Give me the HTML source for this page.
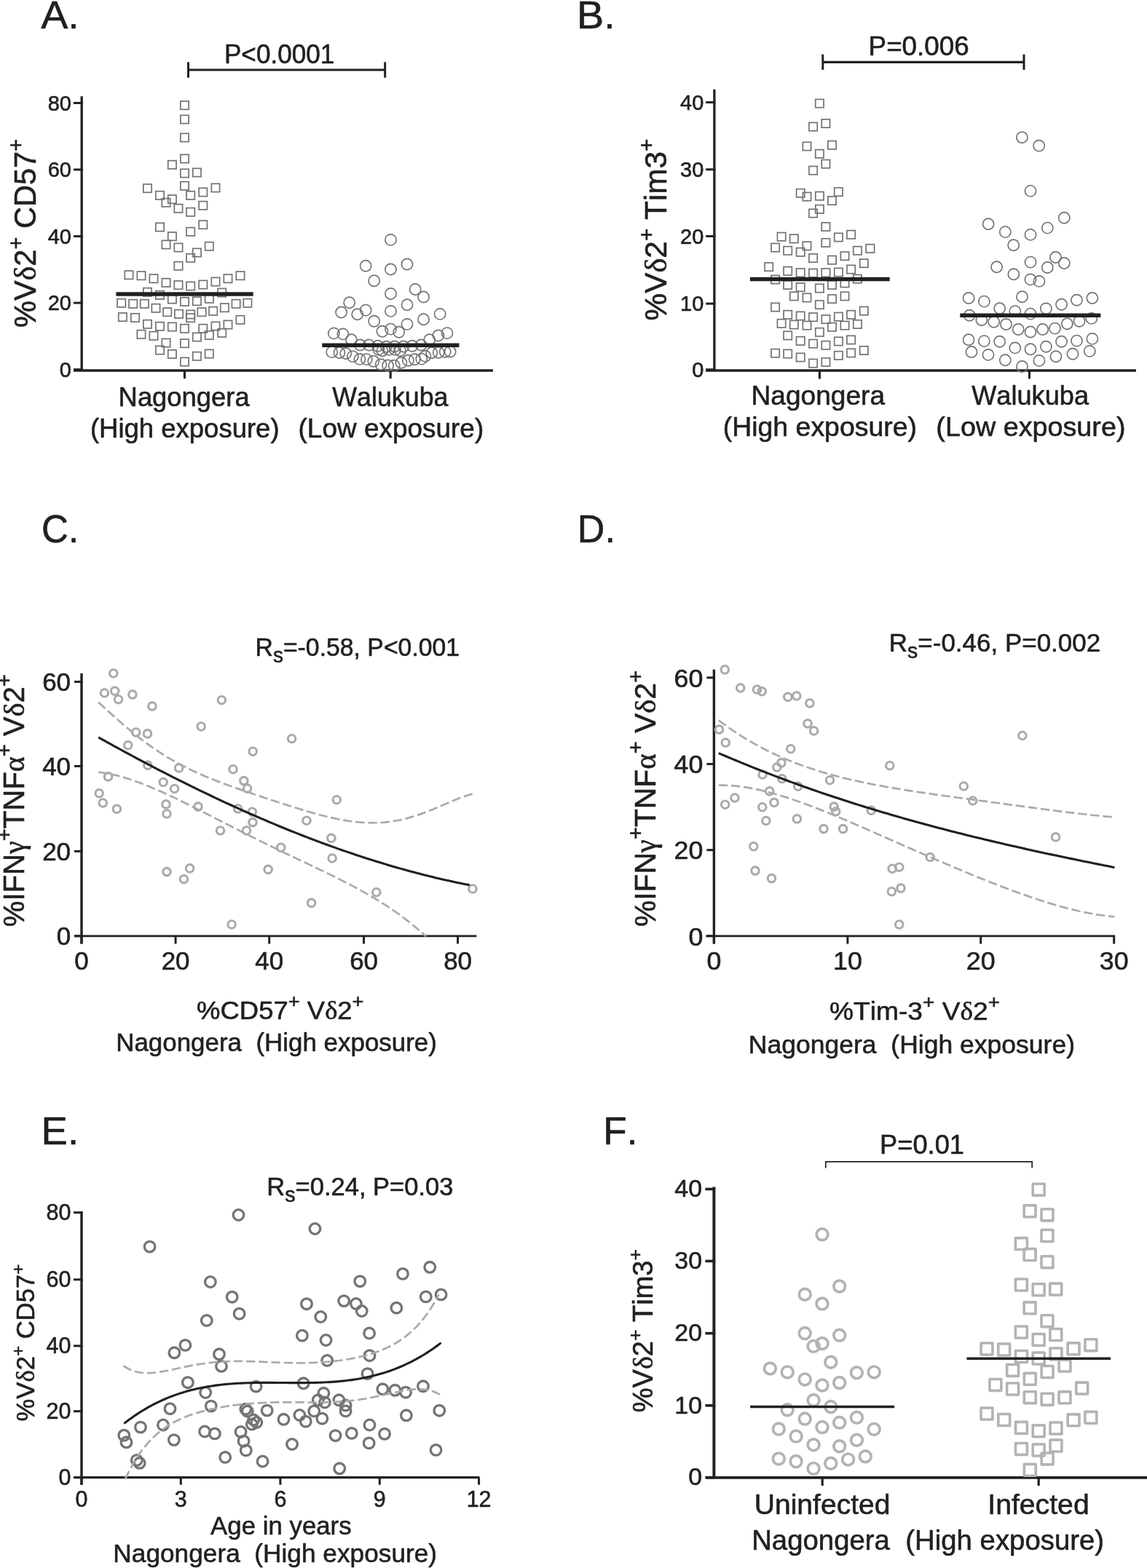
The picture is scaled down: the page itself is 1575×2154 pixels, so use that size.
<!DOCTYPE html>
<html><head><meta charset="utf-8"><title>Figure</title>
<style>
html,body{margin:0;padding:0;background:#fff;}
body{width:1575px;height:2154px;overflow:hidden;}
svg{display:block;font-family:'Liberation Sans', Arial, Helvetica, sans-serif;}
text{fill:#231f20;font-kerning:none;stroke:#231f20;stroke-width:0.6px;stroke-linejoin:round;}
</style></head>
<body>
<svg width="1575" height="2154" viewBox="0 0 1575 2154">
<rect width="1575" height="2154" fill="#fff"/>
<text id="pA" x="56.17" y="38.8" font-size="54.5" textLength="52.64" lengthAdjust="spacingAndGlyphs">A.</text>
<text id="pB" x="792.07" y="38.9" font-size="54.5" textLength="52.75" lengthAdjust="spacingAndGlyphs">B.</text>
<text id="pC" x="57.12" y="744.8" font-size="54.5" textLength="51.07" lengthAdjust="spacingAndGlyphs">C.</text>
<text id="pD" x="792.78" y="744.8" font-size="54.5" textLength="52.11" lengthAdjust="spacingAndGlyphs">D.</text>
<text id="pE" x="56.57" y="1571.7" font-size="54.5" textLength="51.55" lengthAdjust="spacingAndGlyphs">E.</text>
<text id="pF" x="828.15" y="1571.7" font-size="54.5" textLength="47.31" lengthAdjust="spacingAndGlyphs">F.</text>
<text id="PA" x="307.94" y="86.8" font-size="36.8" textLength="151.4" lengthAdjust="spacingAndGlyphs">P&lt;0.0001</text>
<text id="PB" x="1192.59" y="75.6" font-size="36.8" textLength="138.15" lengthAdjust="spacingAndGlyphs">P=0.006</text>
<text id="PF" x="1208" y="1585.3" font-size="37.6" textLength="116.01" lengthAdjust="spacingAndGlyphs">P=0.01</text>
<text id="cA1" x="162.61" y="557.9" font-size="36.5" textLength="180.02" lengthAdjust="spacingAndGlyphs">Nagongera</text>
<text id="cA2" x="123.9" y="600.6" font-size="36.5" textLength="259.68" lengthAdjust="spacingAndGlyphs">(High exposure)</text>
<text id="cA3" x="456.21" y="557.9" font-size="36.5" textLength="159.31" lengthAdjust="spacingAndGlyphs">Walukuba</text>
<text id="cA4" x="409.57" y="600.6" font-size="36.5" textLength="254.63" lengthAdjust="spacingAndGlyphs">(Low exposure)</text>
<text id="cB1" x="1031.51" y="555.7" font-size="37.3" textLength="183.56" lengthAdjust="spacingAndGlyphs">Nagongera</text>
<text id="cB2" x="992.69" y="599.2" font-size="37.3" textLength="266.37" lengthAdjust="spacingAndGlyphs">(High exposure)</text>
<text id="cB3" x="1334.21" y="555.7" font-size="37.3" textLength="160.85" lengthAdjust="spacingAndGlyphs">Walukuba</text>
<text id="cB4" x="1285.36" y="599.2" font-size="37.3" textLength="260.13" lengthAdjust="spacingAndGlyphs">(Low exposure)</text>
<text id="sC" x="350.49" y="900.6" font-size="35" textLength="280.67" lengthAdjust="spacingAndGlyphs">R<tspan font-size="29" dy="9">s</tspan><tspan dy="-9">=-0.58, P&lt;0.001</tspan></text>
<text id="sD" x="1220.85" y="895.3" font-size="35.6" textLength="290.31" lengthAdjust="spacingAndGlyphs">R<tspan font-size="29" dy="9">s</tspan><tspan dy="-9">=-0.46, P=0.002</tspan></text>
<text id="sE" x="366.22" y="1641.8" font-size="34.8" textLength="256.25" lengthAdjust="spacingAndGlyphs">R<tspan font-size="29" dy="9">s</tspan><tspan dy="-9">=0.24, P=0.03</tspan></text>
<text id="xC1" x="270.12" y="1400.3" font-size="35" textLength="229.49" lengthAdjust="spacingAndGlyphs">%CD57<tspan font-size="26.25" dy="-16.45">+</tspan><tspan dy="16.45"> V</tspan><tspan font-family="'Liberation Serif', 'Times New Roman', serif">δ</tspan>2<tspan font-size="26.25" dy="-16.45">+</tspan></text>
<text id="xC2" x="159.2" y="1444.4" font-size="35" textLength="440.74" lengthAdjust="spacingAndGlyphs" xml:space="preserve">Nagongera  (High exposure)</text>
<text id="xD1" x="1138.95" y="1401.3" font-size="35.6" textLength="234.06" lengthAdjust="spacingAndGlyphs">%Tim-3<tspan font-size="26.7" dy="-16.73">+</tspan><tspan dy="16.73"> V</tspan><tspan font-family="'Liberation Serif', 'Times New Roman', serif">δ</tspan>2<tspan font-size="26.7" dy="-16.73">+</tspan></text>
<text id="xD2" x="1027.8" y="1446.7" font-size="35.9" textLength="448.24" lengthAdjust="spacingAndGlyphs" xml:space="preserve">Nagongera  (High exposure)</text>
<text id="xE1" x="289.09" y="2107.8" font-size="35" textLength="193.56" lengthAdjust="spacingAndGlyphs">Age in years</text>
<text id="xE2" x="155.38" y="2146" font-size="35" textLength="444.68" lengthAdjust="spacingAndGlyphs" xml:space="preserve">Nagongera  (High exposure)</text>
<text id="xF1" x="1035.7" y="2079.5" font-size="38" textLength="186.86" lengthAdjust="spacingAndGlyphs">Uninfected</text>
<text id="xF2" x="1356.28" y="2079.5" font-size="38" textLength="139.43" lengthAdjust="spacingAndGlyphs">Infected</text>
<text id="xF3" x="1032.17" y="2128.7" font-size="38.3" textLength="483.95" lengthAdjust="spacingAndGlyphs" xml:space="preserve">Nagongera  (High exposure)</text>
<text id="yA" transform="translate(48.7,449.95) rotate(-90)" x="0" y="0" font-size="42.7" textLength="259.15" lengthAdjust="spacingAndGlyphs">%V<tspan font-family="'Liberation Serif', 'Times New Roman', serif">δ</tspan>2<tspan font-size="29.89" dy="-17.08">+</tspan><tspan dy="17.08"> CD57</tspan><tspan font-size="29.89" dy="-17.08">+</tspan></text>
<text id="yB" transform="translate(915.1,440.49) rotate(-90)" x="0" y="0" font-size="42.7" textLength="249.92" lengthAdjust="spacingAndGlyphs">%V<tspan font-family="'Liberation Serif', 'Times New Roman', serif">δ</tspan>2<tspan font-size="29.89" dy="-17.08">+</tspan><tspan dy="17.08"> Tim3</tspan><tspan font-size="29.89" dy="-17.08">+</tspan></text>
<text id="yC" transform="translate(32.8,1273.21) rotate(-90)" x="0" y="0" font-size="40" textLength="346.83" lengthAdjust="spacingAndGlyphs">%IFN<tspan font-family="'Liberation Serif', 'Times New Roman', serif">γ</tspan><tspan font-size="28.8" dy="-16.8">+</tspan><tspan dy="16.8">TNF</tspan><tspan font-family="'Liberation Serif', 'Times New Roman', serif">α</tspan><tspan font-size="28.8" dy="-16.8">+</tspan><tspan dy="16.8"> V</tspan><tspan font-family="'Liberation Serif', 'Times New Roman', serif">δ</tspan>2<tspan font-size="28.8" dy="-16.8">+</tspan></text>
<text id="yD" transform="translate(900,1273.01) rotate(-90)" x="0" y="0" font-size="40.5" textLength="352.13" lengthAdjust="spacingAndGlyphs">%IFN<tspan font-family="'Liberation Serif', 'Times New Roman', serif">γ</tspan><tspan font-size="29.16" dy="-17.01">+</tspan><tspan dy="17.01">TNF</tspan><tspan font-family="'Liberation Serif', 'Times New Roman', serif">α</tspan><tspan font-size="29.16" dy="-17.01">+</tspan><tspan dy="17.01"> V</tspan><tspan font-family="'Liberation Serif', 'Times New Roman', serif">δ</tspan>2<tspan font-size="29.16" dy="-17.01">+</tspan></text>
<text id="yE" transform="translate(47.4,1952.4) rotate(-90)" x="0" y="0" font-size="35.4" textLength="215.7" lengthAdjust="spacingAndGlyphs">%V<tspan font-family="'Liberation Serif', 'Times New Roman', serif">δ</tspan>2<tspan font-size="24.78" dy="-14.16">+</tspan><tspan dy="14.16"> CD57</tspan><tspan font-size="24.78" dy="-14.16">+</tspan></text>
<text id="yF" transform="translate(895.8,1940.2) rotate(-90)" x="0" y="0" font-size="38.1" textLength="224.27" lengthAdjust="spacingAndGlyphs">%V<tspan font-family="'Liberation Serif', 'Times New Roman', serif">δ</tspan>2<tspan font-size="26.67" dy="-15.24">+</tspan><tspan dy="15.24"> Tim3</tspan><tspan font-size="26.67" dy="-15.24">+</tspan></text>
<line x1="258.5" y1="96" x2="528.7" y2="96" stroke="#231f20" stroke-width="3.2" stroke-linecap="butt"/>
<line x1="258.5" y1="85.3" x2="258.5" y2="106.7" stroke="#231f20" stroke-width="3" stroke-linecap="butt"/>
<line x1="528.7" y1="85.3" x2="528.7" y2="106.7" stroke="#231f20" stroke-width="3" stroke-linecap="butt"/>
<line x1="112.2" y1="132.3" x2="112.2" y2="509" stroke="#231f20" stroke-width="3.3" stroke-linecap="butt"/>
<line x1="101" y1="141.5" x2="113.7" y2="141.5" stroke="#231f20" stroke-width="3" stroke-linecap="butt"/>
<text x="97.9" y="151.79" font-size="29" text-anchor="end" fill="#231f20" >80</text>
<line x1="101" y1="233" x2="113.7" y2="233" stroke="#231f20" stroke-width="3" stroke-linecap="butt"/>
<text x="97.9" y="243.29" font-size="29" text-anchor="end" fill="#231f20" >60</text>
<line x1="101" y1="324.6" x2="113.7" y2="324.6" stroke="#231f20" stroke-width="3" stroke-linecap="butt"/>
<text x="97.9" y="334.9" font-size="29" text-anchor="end" fill="#231f20" >40</text>
<line x1="101" y1="416.1" x2="113.7" y2="416.1" stroke="#231f20" stroke-width="3" stroke-linecap="butt"/>
<text x="97.9" y="426.4" font-size="29" text-anchor="end" fill="#231f20" >20</text>
<line x1="101" y1="507.6" x2="113.7" y2="507.6" stroke="#231f20" stroke-width="3" stroke-linecap="butt"/>
<text x="97.9" y="517.89" font-size="29" text-anchor="end" fill="#231f20" >0</text>
<line x1="101" y1="509" x2="677" y2="509" stroke="#231f20" stroke-width="3.5" stroke-linecap="butt"/>
<line x1="253.5" y1="509" x2="253.5" y2="520" stroke="#231f20" stroke-width="3.2" stroke-linecap="butt"/>
<line x1="536.2" y1="509" x2="536.2" y2="520" stroke="#231f20" stroke-width="3.2" stroke-linecap="butt"/>
<g fill="none" stroke="#727272" stroke-width="1.7" stroke-linejoin="miter">
<rect x="247.85" y="139.05" width="11.3" height="11.3"/>
<rect x="247.85" y="158.35" width="11.3" height="11.3"/>
<rect x="247.85" y="183.35" width="11.3" height="11.3"/>
<rect x="247.85" y="212.35" width="11.3" height="11.3"/>
<rect x="230.75" y="220.65" width="11.3" height="11.3"/>
<rect x="247.85" y="232.35" width="11.3" height="11.3"/>
<rect x="264.75" y="231.35" width="11.3" height="11.3"/>
<rect x="196.85" y="253.05" width="11.3" height="11.3"/>
<rect x="247.85" y="249.65" width="11.3" height="11.3"/>
<rect x="290.35" y="252.35" width="11.3" height="11.3"/>
<rect x="213.85" y="262.75" width="11.3" height="11.3"/>
<rect x="230.75" y="268.05" width="11.3" height="11.3"/>
<rect x="222.35" y="272.65" width="11.3" height="11.3"/>
<rect x="256.05" y="262.75" width="11.3" height="11.3"/>
<rect x="273.15" y="258.35" width="11.3" height="11.3"/>
<rect x="239.35" y="280.65" width="11.3" height="11.3"/>
<rect x="256.05" y="285.65" width="11.3" height="11.3"/>
<rect x="273.15" y="276.65" width="11.3" height="11.3"/>
<rect x="213.85" y="306.35" width="11.3" height="11.3"/>
<rect x="230.75" y="319.05" width="11.3" height="11.3"/>
<rect x="256.05" y="312.65" width="11.3" height="11.3"/>
<rect x="273.15" y="303.05" width="11.3" height="11.3"/>
<rect x="222.35" y="330.35" width="11.3" height="11.3"/>
<rect x="239.35" y="334.35" width="11.3" height="11.3"/>
<rect x="281.65" y="332.65" width="11.3" height="11.3"/>
<rect x="264.75" y="341.35" width="11.3" height="11.3"/>
<rect x="256.05" y="348.75" width="11.3" height="11.3"/>
<rect x="239.35" y="359.65" width="11.3" height="11.3"/>
<rect x="171.35" y="372.05" width="11.3" height="11.3"/>
<rect x="188.35" y="373.05" width="11.3" height="11.3"/>
<rect x="205.35" y="377.05" width="11.3" height="11.3"/>
<rect x="222.35" y="382.65" width="11.3" height="11.3"/>
<rect x="239.35" y="385.95" width="11.3" height="11.3"/>
<rect x="256.05" y="387.35" width="11.3" height="11.3"/>
<rect x="273.15" y="385.35" width="11.3" height="11.3"/>
<rect x="290.35" y="381.35" width="11.3" height="11.3"/>
<rect x="307.35" y="377.05" width="11.3" height="11.3"/>
<rect x="324.35" y="373.05" width="11.3" height="11.3"/>
<rect x="196.85" y="395.65" width="11.3" height="11.3"/>
<rect x="213.85" y="399.65" width="11.3" height="11.3"/>
<rect x="299.05" y="396.35" width="11.3" height="11.3"/>
<rect x="230.75" y="405.35" width="11.3" height="11.3"/>
<rect x="247.85" y="408.75" width="11.3" height="11.3"/>
<rect x="264.75" y="408.05" width="11.3" height="11.3"/>
<rect x="281.65" y="404.65" width="11.3" height="11.3"/>
<rect x="161.05" y="410.65" width="11.3" height="11.3"/>
<rect x="177.05" y="411.65" width="11.3" height="11.3"/>
<rect x="192.75" y="411.65" width="11.3" height="11.3"/>
<rect x="208.35" y="417.65" width="11.3" height="11.3"/>
<rect x="224.05" y="423.05" width="11.3" height="11.3"/>
<rect x="239.85" y="425.65" width="11.3" height="11.3"/>
<rect x="256.05" y="426.35" width="11.3" height="11.3"/>
<rect x="256.05" y="431.05" width="11.3" height="11.3"/>
<rect x="271.35" y="423.05" width="11.3" height="11.3"/>
<rect x="287.05" y="421.65" width="11.3" height="11.3"/>
<rect x="302.75" y="417.05" width="11.3" height="11.3"/>
<rect x="318.45" y="411.65" width="11.3" height="11.3"/>
<rect x="334.25" y="410.65" width="11.3" height="11.3"/>
<rect x="162.75" y="429.95" width="11.3" height="11.3"/>
<rect x="179.85" y="430.75" width="11.3" height="11.3"/>
<rect x="324.35" y="433.65" width="11.3" height="11.3"/>
<rect x="196.85" y="439.65" width="11.3" height="11.3"/>
<rect x="213.85" y="442.65" width="11.3" height="11.3"/>
<rect x="230.75" y="443.35" width="11.3" height="11.3"/>
<rect x="247.85" y="445.65" width="11.3" height="11.3"/>
<rect x="273.15" y="445.65" width="11.3" height="11.3"/>
<rect x="290.35" y="442.35" width="11.3" height="11.3"/>
<rect x="307.35" y="440.35" width="11.3" height="11.3"/>
<rect x="188.35" y="453.65" width="11.3" height="11.3"/>
<rect x="205.35" y="455.65" width="11.3" height="11.3"/>
<rect x="264.75" y="457.35" width="11.3" height="11.3"/>
<rect x="281.65" y="454.75" width="11.3" height="11.3"/>
<rect x="299.05" y="451.65" width="11.3" height="11.3"/>
<rect x="222.35" y="465.35" width="11.3" height="11.3"/>
<rect x="247.85" y="466.05" width="11.3" height="11.3"/>
<rect x="213.85" y="475.35" width="11.3" height="11.3"/>
<rect x="230.75" y="480.75" width="11.3" height="11.3"/>
<rect x="264.75" y="483.65" width="11.3" height="11.3"/>
<rect x="281.65" y="480.35" width="11.3" height="11.3"/>
<rect x="247.85" y="491.35" width="11.3" height="11.3"/>
</g>
<g fill="none" stroke="#727272" stroke-width="1.65">
<circle cx="536.5" cy="329.4" r="7.6"/>
<circle cx="502.2" cy="365.2" r="7.6"/>
<circle cx="536.5" cy="370" r="7.6"/>
<circle cx="559" cy="363" r="7.6"/>
<circle cx="513.7" cy="385.8" r="7.6"/>
<circle cx="536.5" cy="403.5" r="7.6"/>
<circle cx="570.2" cy="397.5" r="7.6"/>
<circle cx="581.6" cy="408" r="7.6"/>
<circle cx="479.7" cy="415.7" r="7.6"/>
<circle cx="559" cy="418.7" r="7.6"/>
<circle cx="468.6" cy="429" r="7.6"/>
<circle cx="490.8" cy="431.8" r="7.6"/>
<circle cx="502.2" cy="426.1" r="7.6"/>
<circle cx="536.5" cy="427.4" r="7.6"/>
<circle cx="581.6" cy="438.8" r="7.6"/>
<circle cx="604.2" cy="431.4" r="7.6"/>
<circle cx="513.7" cy="441.3" r="7.6"/>
<circle cx="559" cy="445.4" r="7.6"/>
<circle cx="525" cy="455.3" r="7.6"/>
<circle cx="536.5" cy="452.1" r="7.6"/>
<circle cx="547.7" cy="456.3" r="7.6"/>
<circle cx="458.4" cy="457.9" r="7.6"/>
<circle cx="470.9" cy="458.9" r="7.6"/>
<circle cx="482.5" cy="466.7" r="7.6"/>
<circle cx="589.8" cy="466.7" r="7.6"/>
<circle cx="601.9" cy="461" r="7.6"/>
<circle cx="614" cy="457.6" r="7.6"/>
<circle cx="494.5" cy="474" r="7.6"/>
<circle cx="506.6" cy="474" r="7.6"/>
<circle cx="518.7" cy="475.3" r="7.6"/>
<circle cx="530.4" cy="476.3" r="7.6"/>
<circle cx="542" cy="476" r="7.6"/>
<circle cx="554" cy="476" r="7.6"/>
<circle cx="566.1" cy="475.3" r="7.6"/>
<circle cx="578.2" cy="474" r="7.6"/>
<circle cx="519.9" cy="480.1" r="7.6"/>
<circle cx="525" cy="481.7" r="7.6"/>
<circle cx="533.9" cy="480.4" r="7.6"/>
<circle cx="542.6" cy="480.4" r="7.6"/>
<circle cx="549.6" cy="481.7" r="7.6"/>
<circle cx="455.8" cy="483.6" r="7.6"/>
<circle cx="466" cy="484.5" r="7.6"/>
<circle cx="474.8" cy="485.5" r="7.6"/>
<circle cx="484.4" cy="489.6" r="7.6"/>
<circle cx="493.9" cy="493.4" r="7.6"/>
<circle cx="503.4" cy="493.6" r="7.6"/>
<circle cx="512.9" cy="496.3" r="7.6"/>
<circle cx="523.1" cy="500.7" r="7.6"/>
<circle cx="532.6" cy="502" r="7.6"/>
<circle cx="541.3" cy="502.3" r="7.6"/>
<circle cx="550.9" cy="498.2" r="7.6"/>
<circle cx="560.4" cy="495.3" r="7.6"/>
<circle cx="569.3" cy="493.7" r="7.6"/>
<circle cx="578.8" cy="493.1" r="7.6"/>
<circle cx="583.9" cy="489.3" r="7.6"/>
<circle cx="592.8" cy="484.8" r="7.6"/>
<circle cx="602.3" cy="484.2" r="7.6"/>
<circle cx="611.2" cy="483.3" r="7.6"/>
<circle cx="618.2" cy="483" r="7.6"/>
</g>
<line x1="159.4" y1="404" x2="347.7" y2="404" stroke="#231f20" stroke-width="5.5" stroke-linecap="butt"/>
<line x1="442.3" y1="474.3" x2="630.5" y2="474.3" stroke="#231f20" stroke-width="5.5" stroke-linecap="butt"/>
<line x1="1129.8" y1="85.3" x2="1406" y2="85.3" stroke="#231f20" stroke-width="3.2" stroke-linecap="butt"/>
<line x1="1129.8" y1="74.7" x2="1129.8" y2="95.9" stroke="#231f20" stroke-width="3" stroke-linecap="butt"/>
<line x1="1406" y1="74.7" x2="1406" y2="95.9" stroke="#231f20" stroke-width="3" stroke-linecap="butt"/>
<line x1="980.9" y1="122.7" x2="980.9" y2="509" stroke="#231f20" stroke-width="3.3" stroke-linecap="butt"/>
<line x1="969.2" y1="140.6" x2="982.4" y2="140.6" stroke="#231f20" stroke-width="3" stroke-linecap="butt"/>
<text x="966.3" y="150.89" font-size="29" text-anchor="end" fill="#231f20" >40</text>
<line x1="969.2" y1="232.8" x2="982.4" y2="232.8" stroke="#231f20" stroke-width="3" stroke-linecap="butt"/>
<text x="966.3" y="243.09" font-size="29" text-anchor="end" fill="#231f20" >30</text>
<line x1="969.2" y1="324.5" x2="982.4" y2="324.5" stroke="#231f20" stroke-width="3" stroke-linecap="butt"/>
<text x="966.3" y="334.8" font-size="29" text-anchor="end" fill="#231f20" >20</text>
<line x1="969.2" y1="417.1" x2="982.4" y2="417.1" stroke="#231f20" stroke-width="3" stroke-linecap="butt"/>
<text x="966.3" y="427.4" font-size="29" text-anchor="end" fill="#231f20" >10</text>
<line x1="969.2" y1="507.7" x2="982.4" y2="507.7" stroke="#231f20" stroke-width="3" stroke-linecap="butt"/>
<text x="966.3" y="518" font-size="29" text-anchor="end" fill="#231f20" >0</text>
<line x1="969.2" y1="509" x2="1560" y2="509" stroke="#231f20" stroke-width="3.5" stroke-linecap="butt"/>
<line x1="1125.4" y1="509" x2="1125.4" y2="520.4" stroke="#231f20" stroke-width="3.2" stroke-linecap="butt"/>
<line x1="1413.5" y1="509" x2="1413.5" y2="520.4" stroke="#231f20" stroke-width="3.2" stroke-linecap="butt"/>
<g fill="none" stroke="#727272" stroke-width="1.7" stroke-linejoin="miter">
<rect x="1119.75" y="136.45" width="11.3" height="11.3"/>
<rect x="1110.95" y="168.45" width="11.3" height="11.3"/>
<rect x="1128.25" y="163.95" width="11.3" height="11.3"/>
<rect x="1102.35" y="195.35" width="11.3" height="11.3"/>
<rect x="1136.85" y="193.65" width="11.3" height="11.3"/>
<rect x="1119.75" y="205.65" width="11.3" height="11.3"/>
<rect x="1128.25" y="219.55" width="11.3" height="11.3"/>
<rect x="1110.95" y="228.45" width="11.3" height="11.3"/>
<rect x="1093.55" y="259.65" width="11.3" height="11.3"/>
<rect x="1102.35" y="264.45" width="11.3" height="11.3"/>
<rect x="1119.75" y="263.55" width="11.3" height="11.3"/>
<rect x="1145.75" y="257.95" width="11.3" height="11.3"/>
<rect x="1136.85" y="269.95" width="11.3" height="11.3"/>
<rect x="1119.75" y="281.65" width="11.3" height="11.3"/>
<rect x="1110.95" y="287.35" width="11.3" height="11.3"/>
<rect x="1128.25" y="305.85" width="11.3" height="11.3"/>
<rect x="1067.45" y="319.55" width="11.3" height="11.3"/>
<rect x="1084.65" y="322.25" width="11.3" height="11.3"/>
<rect x="1145.75" y="320.35" width="11.3" height="11.3"/>
<rect x="1162.95" y="316.65" width="11.3" height="11.3"/>
<rect x="1058.95" y="334.45" width="11.3" height="11.3"/>
<rect x="1076.05" y="338.65" width="11.3" height="11.3"/>
<rect x="1093.55" y="340.65" width="11.3" height="11.3"/>
<rect x="1102.35" y="332.15" width="11.3" height="11.3"/>
<rect x="1128.25" y="327.75" width="11.3" height="11.3"/>
<rect x="1171.75" y="338.65" width="11.3" height="11.3"/>
<rect x="1189.25" y="335.75" width="11.3" height="11.3"/>
<rect x="1110.95" y="348.95" width="11.3" height="11.3"/>
<rect x="1136.85" y="351.55" width="11.3" height="11.3"/>
<rect x="1154.35" y="346.05" width="11.3" height="11.3"/>
<rect x="1180.65" y="356.05" width="11.3" height="11.3"/>
<rect x="1050.05" y="360.95" width="11.3" height="11.3"/>
<rect x="1076.05" y="366.65" width="11.3" height="11.3"/>
<rect x="1093.55" y="368.95" width="11.3" height="11.3"/>
<rect x="1110.95" y="369.45" width="11.3" height="11.3"/>
<rect x="1128.25" y="368.95" width="11.3" height="11.3"/>
<rect x="1145.75" y="368.35" width="11.3" height="11.3"/>
<rect x="1162.95" y="364.35" width="11.3" height="11.3"/>
<rect x="1058.95" y="378.35" width="11.3" height="11.3"/>
<rect x="1171.75" y="377.45" width="11.3" height="11.3"/>
<rect x="1076.05" y="385.75" width="11.3" height="11.3"/>
<rect x="1093.55" y="388.95" width="11.3" height="11.3"/>
<rect x="1119.75" y="390.35" width="11.3" height="11.3"/>
<rect x="1136.85" y="385.75" width="11.3" height="11.3"/>
<rect x="1154.35" y="383.25" width="11.3" height="11.3"/>
<rect x="1084.65" y="401.25" width="11.3" height="11.3"/>
<rect x="1102.35" y="403.25" width="11.3" height="11.3"/>
<rect x="1136.85" y="404.95" width="11.3" height="11.3"/>
<rect x="1154.35" y="401.25" width="11.3" height="11.3"/>
<rect x="1058.95" y="416.35" width="11.3" height="11.3"/>
<rect x="1119.75" y="412.95" width="11.3" height="11.3"/>
<rect x="1076.05" y="426.65" width="11.3" height="11.3"/>
<rect x="1093.55" y="428.35" width="11.3" height="11.3"/>
<rect x="1110.95" y="430.05" width="11.3" height="11.3"/>
<rect x="1128.25" y="432.95" width="11.3" height="11.3"/>
<rect x="1145.75" y="429.45" width="11.3" height="11.3"/>
<rect x="1162.95" y="426.65" width="11.3" height="11.3"/>
<rect x="1180.65" y="421.45" width="11.3" height="11.3"/>
<rect x="1067.45" y="438.65" width="11.3" height="11.3"/>
<rect x="1084.65" y="440.35" width="11.3" height="11.3"/>
<rect x="1102.35" y="441.45" width="11.3" height="11.3"/>
<rect x="1136.85" y="443.55" width="11.3" height="11.3"/>
<rect x="1154.35" y="441.45" width="11.3" height="11.3"/>
<rect x="1171.75" y="439.75" width="11.3" height="11.3"/>
<rect x="1119.75" y="450.65" width="11.3" height="11.3"/>
<rect x="1076.05" y="455.25" width="11.3" height="11.3"/>
<rect x="1093.55" y="462.65" width="11.3" height="11.3"/>
<rect x="1110.95" y="466.45" width="11.3" height="11.3"/>
<rect x="1128.25" y="468.65" width="11.3" height="11.3"/>
<rect x="1145.75" y="463.25" width="11.3" height="11.3"/>
<rect x="1162.95" y="461.25" width="11.3" height="11.3"/>
<rect x="1058.95" y="479.55" width="11.3" height="11.3"/>
<rect x="1076.05" y="480.35" width="11.3" height="11.3"/>
<rect x="1093.55" y="485.25" width="11.3" height="11.3"/>
<rect x="1110.95" y="493.45" width="11.3" height="11.3"/>
<rect x="1128.25" y="491.75" width="11.3" height="11.3"/>
<rect x="1145.75" y="482.65" width="11.3" height="11.3"/>
<rect x="1162.95" y="479.25" width="11.3" height="11.3"/>
<rect x="1180.65" y="475.75" width="11.3" height="11.3"/>
</g>
<g fill="none" stroke="#727272" stroke-width="1.65">
<circle cx="1403.4" cy="188.8" r="7.6"/>
<circle cx="1426.7" cy="200.2" r="7.6"/>
<circle cx="1415" cy="262.4" r="7.6"/>
<circle cx="1357.1" cy="307.8" r="7.6"/>
<circle cx="1380.3" cy="318.6" r="7.6"/>
<circle cx="1391.7" cy="336.7" r="7.6"/>
<circle cx="1415" cy="322.4" r="7.6"/>
<circle cx="1438.3" cy="313.1" r="7.6"/>
<circle cx="1461.3" cy="299.3" r="7.6"/>
<circle cx="1449.5" cy="353.5" r="7.6"/>
<circle cx="1461.3" cy="361.5" r="7.6"/>
<circle cx="1415" cy="360.1" r="7.6"/>
<circle cx="1368.6" cy="366.8" r="7.6"/>
<circle cx="1438.3" cy="367.5" r="7.6"/>
<circle cx="1391.9" cy="376.7" r="7.6"/>
<circle cx="1415" cy="383.9" r="7.6"/>
<circle cx="1426.9" cy="386.4" r="7.6"/>
<circle cx="1330.1" cy="409.5" r="7.6"/>
<circle cx="1351.4" cy="414.1" r="7.6"/>
<circle cx="1403.5" cy="407.8" r="7.6"/>
<circle cx="1372.7" cy="423.7" r="7.6"/>
<circle cx="1393.8" cy="427.6" r="7.6"/>
<circle cx="1415" cy="431.1" r="7.6"/>
<circle cx="1436.4" cy="423.9" r="7.6"/>
<circle cx="1457.6" cy="418.3" r="7.6"/>
<circle cx="1478.5" cy="412.3" r="7.6"/>
<circle cx="1499.9" cy="409.5" r="7.6"/>
<circle cx="1331.2" cy="433.2" r="7.6"/>
<circle cx="1347.9" cy="439.5" r="7.6"/>
<circle cx="1364.7" cy="442.3" r="7.6"/>
<circle cx="1381.5" cy="445.5" r="7.6"/>
<circle cx="1398.2" cy="452.5" r="7.6"/>
<circle cx="1415" cy="456" r="7.6"/>
<circle cx="1431.7" cy="452.5" r="7.6"/>
<circle cx="1448.5" cy="451.1" r="7.6"/>
<circle cx="1465.3" cy="444.8" r="7.6"/>
<circle cx="1482" cy="441.3" r="7.6"/>
<circle cx="1498.8" cy="437.4" r="7.6"/>
<circle cx="1330.1" cy="466.7" r="7.6"/>
<circle cx="1351.4" cy="468.6" r="7.6"/>
<circle cx="1372.7" cy="469.3" r="7.6"/>
<circle cx="1393.8" cy="477.9" r="7.6"/>
<circle cx="1415" cy="479.7" r="7.6"/>
<circle cx="1436.4" cy="476.2" r="7.6"/>
<circle cx="1457.6" cy="469.3" r="7.6"/>
<circle cx="1478.5" cy="468.1" r="7.6"/>
<circle cx="1499.9" cy="465.4" r="7.6"/>
<circle cx="1334" cy="483.5" r="7.6"/>
<circle cx="1357" cy="487.4" r="7.6"/>
<circle cx="1380.3" cy="494.7" r="7.6"/>
<circle cx="1403.5" cy="503.5" r="7.6"/>
<circle cx="1426.9" cy="495.4" r="7.6"/>
<circle cx="1449.9" cy="489.8" r="7.6"/>
<circle cx="1473" cy="486.3" r="7.6"/>
<circle cx="1496.3" cy="482.4" r="7.6"/>
</g>
<line x1="1029.9" y1="383.5" x2="1221.7" y2="383.5" stroke="#231f20" stroke-width="5.5" stroke-linecap="butt"/>
<line x1="1318.3" y1="433.3" x2="1511.4" y2="433.3" stroke="#231f20" stroke-width="5.5" stroke-linecap="butt"/>
<line x1="112" y1="925" x2="112" y2="1296.5" stroke="#231f20" stroke-width="3.4" stroke-linecap="butt"/>
<line x1="102" y1="936.6" x2="113.5" y2="936.6" stroke="#231f20" stroke-width="3" stroke-linecap="butt"/>
<text x="97.1" y="949.02" font-size="35" text-anchor="end" fill="#231f20" >60</text>
<line x1="102" y1="1052.5" x2="113.5" y2="1052.5" stroke="#231f20" stroke-width="3" stroke-linecap="butt"/>
<text x="97.1" y="1064.92" font-size="35" text-anchor="end" fill="#231f20" >40</text>
<line x1="102" y1="1169.4" x2="113.5" y2="1169.4" stroke="#231f20" stroke-width="3" stroke-linecap="butt"/>
<text x="97.1" y="1181.83" font-size="35" text-anchor="end" fill="#231f20" >20</text>
<line x1="102" y1="1285.8" x2="113.5" y2="1285.8" stroke="#231f20" stroke-width="3" stroke-linecap="butt"/>
<text x="97.1" y="1298.22" font-size="35" text-anchor="end" fill="#231f20" >0</text>
<line x1="102.1" y1="1285.8" x2="654.3" y2="1285.8" stroke="#231f20" stroke-width="2.8" stroke-linecap="butt"/>
<line x1="112" y1="1285.8" x2="112" y2="1296.5" stroke="#231f20" stroke-width="3" stroke-linecap="butt"/>
<text x="112" y="1331.5" font-size="35" text-anchor="middle" fill="#231f20" >0</text>
<line x1="241.1" y1="1285.8" x2="241.1" y2="1296.5" stroke="#231f20" stroke-width="3" stroke-linecap="butt"/>
<text x="241.1" y="1331.5" font-size="35" text-anchor="middle" fill="#231f20" >20</text>
<line x1="369.7" y1="1285.8" x2="369.7" y2="1296.5" stroke="#231f20" stroke-width="3" stroke-linecap="butt"/>
<text x="369.7" y="1331.5" font-size="35" text-anchor="middle" fill="#231f20" >40</text>
<line x1="499.6" y1="1285.8" x2="499.6" y2="1296.5" stroke="#231f20" stroke-width="3" stroke-linecap="butt"/>
<text x="499.6" y="1331.5" font-size="35" text-anchor="middle" fill="#231f20" >60</text>
<line x1="628.6" y1="1285.8" x2="628.6" y2="1296.5" stroke="#231f20" stroke-width="3" stroke-linecap="butt"/>
<text x="628.6" y="1331.5" font-size="35" text-anchor="middle" fill="#231f20" >80</text>
<g fill="none" stroke="#aaaaac" stroke-width="3.1">
<circle cx="155.8" cy="925" r="5.25"/>
<circle cx="143.4" cy="952" r="5.25"/>
<circle cx="157.7" cy="949.2" r="5.25"/>
<circle cx="162.5" cy="960.8" r="5.25"/>
<circle cx="181.9" cy="954.1" r="5.25"/>
<circle cx="209" cy="970.1" r="5.25"/>
<circle cx="304.4" cy="961.8" r="5.25"/>
<circle cx="276.2" cy="998" r="5.25"/>
<circle cx="186.7" cy="1006" r="5.25"/>
<circle cx="202.5" cy="1007.9" r="5.25"/>
<circle cx="400.6" cy="1014.7" r="5.25"/>
<circle cx="175.8" cy="1023.7" r="5.25"/>
<circle cx="347.2" cy="1032.2" r="5.25"/>
<circle cx="202.9" cy="1051.3" r="5.25"/>
<circle cx="245.7" cy="1054.9" r="5.25"/>
<circle cx="320" cy="1056.8" r="5.25"/>
<circle cx="148.6" cy="1066.9" r="5.25"/>
<circle cx="334.9" cy="1072.6" r="5.25"/>
<circle cx="339.6" cy="1083.1" r="5.25"/>
<circle cx="224.2" cy="1074.5" r="5.25"/>
<circle cx="239.6" cy="1083.5" r="5.25"/>
<circle cx="136.2" cy="1089.8" r="5.25"/>
<circle cx="141.3" cy="1103" r="5.25"/>
<circle cx="160.4" cy="1111.3" r="5.25"/>
<circle cx="228" cy="1104.9" r="5.25"/>
<circle cx="229" cy="1118" r="5.25"/>
<circle cx="272" cy="1108.1" r="5.25"/>
<circle cx="326.7" cy="1111" r="5.25"/>
<circle cx="346.3" cy="1115.3" r="5.25"/>
<circle cx="347" cy="1129.6" r="5.25"/>
<circle cx="302.5" cy="1141" r="5.25"/>
<circle cx="338.5" cy="1141" r="5.25"/>
<circle cx="385.7" cy="1164.3" r="5.25"/>
<circle cx="229" cy="1197.6" r="5.25"/>
<circle cx="260.6" cy="1192.9" r="5.25"/>
<circle cx="252.4" cy="1207.7" r="5.25"/>
<circle cx="368.2" cy="1194.4" r="5.25"/>
<circle cx="318.1" cy="1270" r="5.25"/>
<circle cx="462.3" cy="1098.7" r="5.25"/>
<circle cx="421" cy="1127.2" r="5.25"/>
<circle cx="454.9" cy="1151.4" r="5.25"/>
<circle cx="456.2" cy="1179" r="5.25"/>
<circle cx="516.8" cy="1225.7" r="5.25"/>
<circle cx="427.6" cy="1240.4" r="5.25"/>
<circle cx="649" cy="1221" r="5.25"/>
</g>
<path d="M135.2,964.81 L139.51,968.74 L143.83,972.67 L148.14,976.6 L152.46,980.51 L156.77,984.4 L161.09,988.24 L165.4,992.04 L169.71,995.79 L174.03,999.47 L178.34,1003.09 L182.66,1006.64 L186.97,1010.11 L191.29,1013.51 L195.6,1016.82 L199.91,1020.06 L204.23,1023.2 L208.54,1026.27 L212.86,1029.24 L217.17,1032.14 L221.49,1034.94 L225.8,1037.67 L230.11,1040.31 L234.43,1042.87 L238.74,1045.35 L243.06,1047.76 L247.37,1050.09 L251.69,1052.35 L256,1054.54 L260.31,1056.66 L264.63,1058.73 L268.94,1060.73 L273.26,1062.68 L277.57,1064.57 L281.89,1066.42 L286.2,1068.22 L290.51,1069.98 L294.83,1071.7 L299.14,1073.38 L303.46,1075.03 L307.77,1076.65 L312.09,1078.24 L316.4,1079.81 L320.71,1081.36 L325.03,1082.88 L329.34,1084.39 L333.66,1085.89 L337.97,1087.37 L342.29,1088.84 L346.6,1090.3 L350.91,1091.75 L355.23,1093.2 L359.54,1094.64 L363.86,1096.07 L368.17,1097.49 L372.49,1098.91 L376.8,1100.33 L381.11,1101.73 L385.43,1103.13 L389.74,1104.52 L394.06,1105.91 L398.37,1107.28 L402.69,1108.64 L407,1109.98 L411.31,1111.31 L415.63,1112.62 L419.94,1113.91 L424.26,1115.18 L428.57,1116.42 L432.89,1117.63 L437.2,1118.81 L441.51,1119.95 L445.83,1121.05 L450.14,1122.11 L454.46,1123.12 L458.77,1124.08 L463.09,1124.99 L467.4,1125.84 L471.71,1126.62 L476.03,1127.35 L480.34,1128 L484.66,1128.58 L488.97,1129.08 L493.29,1129.5 L497.6,1129.83 L501.91,1130.08 L506.23,1130.24 L510.54,1130.31 L514.86,1130.27 L519.17,1130.14 L523.49,1129.91 L527.8,1129.58 L532.11,1129.15 L536.43,1128.6 L540.74,1127.96 L545.06,1127.21 L549.37,1126.35 L553.69,1125.39 L558,1124.33 L562.31,1123.17 L566.63,1121.92 L570.94,1120.57 L575.26,1119.14 L579.57,1117.62 L583.89,1116.03 L588.2,1114.36 L592.51,1112.64 L596.83,1110.87 L601.14,1109.06 L605.46,1107.22 L609.77,1105.36 L614.09,1103.5 L618.4,1101.65 L622.71,1099.83 L627.03,1098.07 L631.34,1096.36 L635.66,1094.75 L639.97,1093.24 L644.29,1091.88 L648.6,1090.67" fill="none" stroke="#aaaaac" stroke-width="2.7" stroke-linecap="butt" stroke-linejoin="round" stroke-dasharray="12.4 4.8"/>
<path d="M135.2,1060.66 L138.98,1061.14 L142.76,1061.71 L146.53,1062.35 L150.31,1063.07 L154.09,1063.87 L157.87,1064.74 L161.65,1065.68 L165.43,1066.68 L169.2,1067.75 L172.98,1068.87 L176.76,1070.06 L180.54,1071.3 L184.32,1072.59 L188.09,1073.93 L191.87,1075.32 L195.65,1076.75 L199.43,1078.23 L203.21,1079.74 L206.98,1081.3 L210.76,1082.88 L214.54,1084.51 L218.32,1086.16 L222.1,1087.85 L225.88,1089.56 L229.65,1091.3 L233.43,1093.06 L237.21,1094.84 L240.99,1096.65 L244.77,1098.47 L248.54,1100.31 L252.32,1102.17 L256.1,1104.03 L259.88,1105.92 L263.66,1107.81 L267.44,1109.71 L271.21,1111.62 L274.99,1113.54 L278.77,1115.46 L282.55,1117.39 L286.33,1119.32 L290.1,1121.25 L293.88,1123.19 L297.66,1125.12 L301.44,1127.06 L305.22,1129 L308.99,1130.93 L312.77,1132.86 L316.55,1134.79 L320.33,1136.71 L324.11,1138.63 L327.89,1140.54 L331.66,1142.45 L335.44,1144.36 L339.22,1146.25 L343,1148.15 L346.78,1150.03 L350.55,1151.91 L354.33,1153.78 L358.11,1155.65 L361.89,1157.51 L365.67,1159.36 L369.45,1161.2 L373.22,1163.04 L377,1164.88 L380.78,1166.7 L384.56,1168.53 L388.34,1170.34 L392.11,1172.16 L395.89,1173.96 L399.67,1175.77 L403.45,1177.57 L407.23,1179.37 L411.01,1181.17 L414.78,1182.96 L418.56,1184.76 L422.34,1186.56 L426.12,1188.36 L429.9,1190.16 L433.67,1191.97 L437.45,1193.78 L441.23,1195.6 L445.01,1197.42 L448.79,1199.25 L452.56,1201.1 L456.34,1202.95 L460.12,1204.82 L463.9,1206.7 L467.68,1208.6 L471.46,1210.52 L475.23,1212.45 L479.01,1214.4 L482.79,1216.38 L486.57,1218.38 L490.35,1220.41 L494.12,1222.47 L497.9,1224.56 L501.68,1226.68 L505.46,1228.83 L509.24,1231.02 L513.02,1233.25 L516.79,1235.52 L520.57,1237.83 L524.35,1240.19 L528.13,1242.59 L531.91,1245.05 L535.68,1247.56 L539.46,1250.12 L543.24,1252.75 L547.02,1255.43 L550.8,1258.18 L554.57,1261 L558.35,1263.88 L562.13,1266.84 L565.91,1269.87 L569.69,1272.98 L573.47,1276.17 L577.24,1279.45 L581.02,1282.81 L584.8,1286.26" fill="none" stroke="#aaaaac" stroke-width="2.7" stroke-linecap="butt" stroke-linejoin="round" stroke-dasharray="12.4 4.8"/>
<path d="M135.2,1012.95 L139.48,1015.34 L143.76,1017.72 L148.05,1020.1 L152.33,1022.46 L156.61,1024.81 L160.89,1027.16 L165.18,1029.5 L169.46,1031.82 L173.74,1034.14 L178.02,1036.45 L182.31,1038.75 L186.59,1041.04 L190.87,1043.32 L195.15,1045.6 L199.44,1047.86 L203.72,1050.11 L208,1052.35 L212.28,1054.59 L216.56,1056.81 L220.85,1059.02 L225.13,1061.22 L229.41,1063.42 L233.69,1065.6 L237.98,1067.77 L242.26,1069.93 L246.54,1072.09 L250.82,1074.23 L255.11,1076.36 L259.39,1078.48 L263.67,1080.59 L267.95,1082.68 L272.24,1084.77 L276.52,1086.85 L280.8,1088.91 L285.08,1090.97 L289.36,1093.01 L293.65,1095.04 L297.93,1097.06 L302.21,1099.07 L306.49,1101.07 L310.78,1103.05 L315.06,1105.03 L319.34,1106.99 L323.62,1108.94 L327.91,1110.88 L332.19,1112.8 L336.47,1114.72 L340.75,1116.62 L345.04,1118.51 L349.32,1120.39 L353.6,1122.25 L357.88,1124.11 L362.16,1125.95 L366.45,1127.77 L370.73,1129.59 L375.01,1131.39 L379.29,1133.18 L383.58,1134.96 L387.86,1136.72 L392.14,1138.47 L396.42,1140.21 L400.71,1141.94 L404.99,1143.65 L409.27,1145.34 L413.55,1147.03 L417.84,1148.7 L422.12,1150.36 L426.4,1152 L430.68,1153.63 L434.96,1155.25 L439.25,1156.85 L443.53,1158.44 L447.81,1160.01 L452.09,1161.57 L456.38,1163.11 L460.66,1164.65 L464.94,1166.16 L469.22,1167.67 L473.51,1169.15 L477.79,1170.63 L482.07,1172.09 L486.35,1173.53 L490.64,1174.96 L494.92,1176.37 L499.2,1177.77 L503.48,1179.16 L507.76,1180.53 L512.05,1181.88 L516.33,1183.22 L520.61,1184.54 L524.89,1185.85 L529.18,1187.14 L533.46,1188.42 L537.74,1189.68 L542.02,1190.93 L546.31,1192.16 L550.59,1193.37 L554.87,1194.57 L559.15,1195.75 L563.44,1196.91 L567.72,1198.06 L572,1199.2 L576.28,1200.31 L580.56,1201.41 L584.85,1202.5 L589.13,1203.56 L593.41,1204.61 L597.69,1205.65 L601.98,1206.66 L606.26,1207.66 L610.54,1208.65 L614.82,1209.61 L619.11,1210.56 L623.39,1211.49 L627.67,1212.41 L631.95,1213.31 L636.24,1214.19 L640.52,1215.05 L644.8,1215.89" fill="none" stroke="#231f20" stroke-width="3.1" stroke-linecap="butt" stroke-linejoin="round"/>
<line x1="980.4" y1="919.8" x2="980.4" y2="1296.5" stroke="#231f20" stroke-width="3.4" stroke-linecap="butt"/>
<line x1="970.4" y1="930.9" x2="981.9" y2="930.9" stroke="#231f20" stroke-width="3" stroke-linecap="butt"/>
<text x="965.3" y="943.61" font-size="35.8" text-anchor="end" fill="#231f20" >60</text>
<line x1="970.4" y1="1049.6" x2="981.9" y2="1049.6" stroke="#231f20" stroke-width="3" stroke-linecap="butt"/>
<text x="965.3" y="1062.31" font-size="35.8" text-anchor="end" fill="#231f20" >40</text>
<line x1="970.4" y1="1167.7" x2="981.9" y2="1167.7" stroke="#231f20" stroke-width="3" stroke-linecap="butt"/>
<text x="965.3" y="1180.41" font-size="35.8" text-anchor="end" fill="#231f20" >20</text>
<line x1="970.4" y1="1285.8" x2="981.9" y2="1285.8" stroke="#231f20" stroke-width="3" stroke-linecap="butt"/>
<text x="965.3" y="1298.51" font-size="35.8" text-anchor="end" fill="#231f20" >0</text>
<line x1="969.3" y1="1285.8" x2="1531.1" y2="1285.8" stroke="#231f20" stroke-width="2.8" stroke-linecap="butt"/>
<line x1="980.4" y1="1285.8" x2="980.4" y2="1296.6" stroke="#231f20" stroke-width="3" stroke-linecap="butt"/>
<text x="980.4" y="1332" font-size="35.8" text-anchor="middle" fill="#231f20" >0</text>
<line x1="1163.9" y1="1285.8" x2="1163.9" y2="1296.6" stroke="#231f20" stroke-width="3" stroke-linecap="butt"/>
<text x="1163.9" y="1332" font-size="35.8" text-anchor="middle" fill="#231f20" >10</text>
<line x1="1346.7" y1="1285.8" x2="1346.7" y2="1296.6" stroke="#231f20" stroke-width="3" stroke-linecap="butt"/>
<text x="1346.7" y="1332" font-size="35.8" text-anchor="middle" fill="#231f20" >20</text>
<line x1="1529.7" y1="1285.8" x2="1529.7" y2="1296.6" stroke="#231f20" stroke-width="3" stroke-linecap="butt"/>
<text x="1529.7" y="1332" font-size="35.8" text-anchor="middle" fill="#231f20" >30</text>
<g fill="none" stroke="#aaaaac" stroke-width="3.1">
<circle cx="995.3" cy="919.9" r="5.25"/>
<circle cx="1016.7" cy="945" r="5.25"/>
<circle cx="1039.5" cy="947.3" r="5.25"/>
<circle cx="1046.2" cy="949.8" r="5.25"/>
<circle cx="1081.8" cy="957.4" r="5.25"/>
<circle cx="1093.8" cy="956" r="5.25"/>
<circle cx="1111.9" cy="966" r="5.25"/>
<circle cx="1109" cy="994" r="5.25"/>
<circle cx="1117.6" cy="1004" r="5.25"/>
<circle cx="987.5" cy="1002.1" r="5.25"/>
<circle cx="996.3" cy="1020.2" r="5.25"/>
<circle cx="1085.8" cy="1028.8" r="5.25"/>
<circle cx="1072.9" cy="1047.9" r="5.25"/>
<circle cx="1066.8" cy="1054" r="5.25"/>
<circle cx="1047.1" cy="1064" r="5.25"/>
<circle cx="1073.8" cy="1069.8" r="5.25"/>
<circle cx="1095.7" cy="1080.2" r="5.25"/>
<circle cx="1139.5" cy="1071.7" r="5.25"/>
<circle cx="1221.8" cy="1051.7" r="5.25"/>
<circle cx="1056.7" cy="1086.9" r="5.25"/>
<circle cx="1009" cy="1096" r="5.25"/>
<circle cx="995.7" cy="1105.2" r="5.25"/>
<circle cx="1046.8" cy="1108.7" r="5.25"/>
<circle cx="1063" cy="1102.4" r="5.25"/>
<circle cx="1051.9" cy="1127.5" r="5.25"/>
<circle cx="1094.4" cy="1124.9" r="5.25"/>
<circle cx="1145.2" cy="1108.1" r="5.25"/>
<circle cx="1147.7" cy="1114.8" r="5.25"/>
<circle cx="1196.3" cy="1113.2" r="5.25"/>
<circle cx="1131" cy="1138.6" r="5.25"/>
<circle cx="1157.6" cy="1138.6" r="5.25"/>
<circle cx="1034.8" cy="1162.8" r="5.25"/>
<circle cx="1037" cy="1196.1" r="5.25"/>
<circle cx="1059.5" cy="1206.6" r="5.25"/>
<circle cx="1225.2" cy="1193.2" r="5.25"/>
<circle cx="1234.8" cy="1191.3" r="5.25"/>
<circle cx="1224.3" cy="1224.7" r="5.25"/>
<circle cx="1237" cy="1220.1" r="5.25"/>
<circle cx="1234.8" cy="1270" r="5.25"/>
<circle cx="1403.9" cy="1010.5" r="5.25"/>
<circle cx="1323.3" cy="1080" r="5.25"/>
<circle cx="1335.7" cy="1100" r="5.25"/>
<circle cx="1449.6" cy="1149.9" r="5.25"/>
<circle cx="1277.2" cy="1177.5" r="5.25"/>
</g>
<path d="M986.8,989.3 L991.36,992.75 L995.93,996.1 L1000.49,999.37 L1005.06,1002.54 L1009.62,1005.62 L1014.19,1008.61 L1018.75,1011.52 L1023.32,1014.34 L1027.88,1017.09 L1032.45,1019.75 L1037.01,1022.33 L1041.58,1024.84 L1046.14,1027.27 L1050.71,1029.64 L1055.27,1031.93 L1059.84,1034.15 L1064.4,1036.3 L1068.96,1038.39 L1073.53,1040.42 L1078.09,1042.39 L1082.66,1044.29 L1087.22,1046.14 L1091.79,1047.93 L1096.35,1049.67 L1100.92,1051.35 L1105.48,1052.98 L1110.05,1054.56 L1114.61,1056.09 L1119.18,1057.58 L1123.74,1059.02 L1128.31,1060.42 L1132.87,1061.77 L1137.44,1063.08 L1142,1064.36 L1146.56,1065.6 L1151.13,1066.8 L1155.69,1067.96 L1160.26,1069.1 L1164.82,1070.19 L1169.39,1071.26 L1173.95,1072.3 L1178.52,1073.31 L1183.08,1074.3 L1187.65,1075.26 L1192.21,1076.19 L1196.78,1077.1 L1201.34,1077.99 L1205.91,1078.85 L1210.47,1079.7 L1215.04,1080.52 L1219.6,1081.33 L1224.16,1082.13 L1228.73,1082.9 L1233.29,1083.66 L1237.86,1084.41 L1242.42,1085.14 L1246.99,1085.86 L1251.55,1086.57 L1256.12,1087.27 L1260.68,1087.96 L1265.25,1088.64 L1269.81,1089.32 L1274.38,1089.98 L1278.94,1090.64 L1283.51,1091.29 L1288.07,1091.94 L1292.64,1092.58 L1297.2,1093.22 L1301.76,1093.85 L1306.33,1094.48 L1310.89,1095.1 L1315.46,1095.73 L1320.02,1096.35 L1324.59,1096.97 L1329.15,1097.59 L1333.72,1098.21 L1338.28,1098.82 L1342.85,1099.44 L1347.41,1100.06 L1351.98,1100.67 L1356.54,1101.29 L1361.11,1101.91 L1365.67,1102.52 L1370.24,1103.14 L1374.8,1103.76 L1379.36,1104.37 L1383.93,1104.99 L1388.49,1105.61 L1393.06,1106.22 L1397.62,1106.84 L1402.19,1107.46 L1406.75,1108.07 L1411.32,1108.69 L1415.88,1109.3 L1420.45,1109.91 L1425.01,1110.52 L1429.58,1111.13 L1434.14,1111.73 L1438.71,1112.33 L1443.27,1112.93 L1447.84,1113.52 L1452.4,1114.11 L1456.96,1114.69 L1461.53,1115.26 L1466.09,1115.83 L1470.66,1116.39 L1475.22,1116.94 L1479.79,1117.47 L1484.35,1118 L1488.92,1118.52 L1493.48,1119.02 L1498.05,1119.52 L1502.61,1119.99 L1507.18,1120.45 L1511.74,1120.89 L1516.31,1121.32 L1520.87,1121.72 L1525.44,1122.11 L1530,1122.47" fill="none" stroke="#aaaaac" stroke-width="2.7" stroke-linecap="butt" stroke-linejoin="round" stroke-dasharray="12.4 4.8"/>
<path d="M986.8,1078.74 L991.37,1078.71 L995.94,1078.8 L1000.51,1079 L1005.08,1079.29 L1009.64,1079.69 L1014.21,1080.18 L1018.78,1080.76 L1023.35,1081.43 L1027.92,1082.18 L1032.49,1083.01 L1037.06,1083.91 L1041.63,1084.88 L1046.2,1085.93 L1050.76,1087.04 L1055.33,1088.21 L1059.9,1089.43 L1064.47,1090.72 L1069.04,1092.06 L1073.61,1093.45 L1078.18,1094.88 L1082.75,1096.36 L1087.32,1097.88 L1091.88,1099.45 L1096.45,1101.05 L1101.02,1102.68 L1105.59,1104.35 L1110.16,1106.05 L1114.73,1107.79 L1119.3,1109.54 L1123.87,1111.33 L1128.44,1113.13 L1133.01,1114.96 L1137.57,1116.81 L1142.14,1118.68 L1146.71,1120.57 L1151.28,1122.47 L1155.85,1124.39 L1160.42,1126.32 L1164.99,1128.27 L1169.56,1130.22 L1174.13,1132.19 L1178.69,1134.16 L1183.26,1136.14 L1187.83,1138.13 L1192.4,1140.13 L1196.97,1142.13 L1201.54,1144.13 L1206.11,1146.14 L1210.68,1148.15 L1215.25,1150.16 L1219.81,1152.18 L1224.38,1154.19 L1228.95,1156.21 L1233.52,1158.22 L1238.09,1160.23 L1242.66,1162.25 L1247.23,1164.26 L1251.8,1166.26 L1256.37,1168.27 L1260.93,1170.27 L1265.5,1172.26 L1270.07,1174.25 L1274.64,1176.24 L1279.21,1178.22 L1283.78,1180.19 L1288.35,1182.16 L1292.92,1184.12 L1297.49,1186.08 L1302.05,1188.03 L1306.62,1189.96 L1311.19,1191.89 L1315.76,1193.82 L1320.33,1195.73 L1324.9,1197.63 L1329.47,1199.52 L1334.04,1201.4 L1338.61,1203.27 L1343.17,1205.13 L1347.74,1206.97 L1352.31,1208.81 L1356.88,1210.62 L1361.45,1212.43 L1366.02,1214.22 L1370.59,1215.99 L1375.16,1217.75 L1379.73,1219.49 L1384.29,1221.21 L1388.86,1222.91 L1393.43,1224.6 L1398,1226.26 L1402.57,1227.9 L1407.14,1229.52 L1411.71,1231.11 L1416.28,1232.68 L1420.85,1234.23 L1425.42,1235.74 L1429.98,1237.23 L1434.55,1238.69 L1439.12,1240.12 L1443.69,1241.51 L1448.26,1242.87 L1452.83,1244.19 L1457.4,1245.48 L1461.97,1246.72 L1466.54,1247.93 L1471.1,1249.09 L1475.67,1250.2 L1480.24,1251.27 L1484.81,1252.29 L1489.38,1253.26 L1493.95,1254.17 L1498.52,1255.03 L1503.09,1255.82 L1507.66,1256.56 L1512.22,1257.23 L1516.79,1257.83 L1521.36,1258.37 L1525.93,1258.83 L1530.5,1259.21" fill="none" stroke="#aaaaac" stroke-width="2.7" stroke-linecap="butt" stroke-linejoin="round" stroke-dasharray="12.4 4.8"/>
<path d="M986.8,1034.58 L991.37,1036.55 L995.94,1038.51 L1000.51,1040.45 L1005.08,1042.38 L1009.64,1044.29 L1014.21,1046.19 L1018.78,1048.07 L1023.35,1049.94 L1027.92,1051.79 L1032.49,1053.63 L1037.06,1055.46 L1041.63,1057.27 L1046.2,1059.07 L1050.76,1060.85 L1055.33,1062.62 L1059.9,1064.38 L1064.47,1066.12 L1069.04,1067.85 L1073.61,1069.57 L1078.18,1071.27 L1082.75,1072.96 L1087.32,1074.64 L1091.88,1076.3 L1096.45,1077.95 L1101.02,1079.59 L1105.59,1081.22 L1110.16,1082.83 L1114.73,1084.44 L1119.3,1086.02 L1123.87,1087.6 L1128.44,1089.17 L1133.01,1090.72 L1137.57,1092.26 L1142.14,1093.79 L1146.71,1095.31 L1151.28,1096.81 L1155.85,1098.31 L1160.42,1099.79 L1164.99,1101.27 L1169.56,1102.73 L1174.13,1104.18 L1178.69,1105.62 L1183.26,1107.04 L1187.83,1108.46 L1192.4,1109.87 L1196.97,1111.26 L1201.54,1112.65 L1206.11,1114.03 L1210.68,1115.39 L1215.25,1116.75 L1219.81,1118.09 L1224.38,1119.43 L1228.95,1120.75 L1233.52,1122.07 L1238.09,1123.38 L1242.66,1124.67 L1247.23,1125.96 L1251.8,1127.24 L1256.37,1128.51 L1260.93,1129.77 L1265.5,1131.02 L1270.07,1132.26 L1274.64,1133.49 L1279.21,1134.72 L1283.78,1135.93 L1288.35,1137.14 L1292.92,1138.34 L1297.49,1139.53 L1302.05,1140.71 L1306.62,1141.88 L1311.19,1143.05 L1315.76,1144.21 L1320.33,1145.36 L1324.9,1146.5 L1329.47,1147.64 L1334.04,1148.77 L1338.61,1149.89 L1343.17,1151 L1347.74,1152.11 L1352.31,1153.21 L1356.88,1154.3 L1361.45,1155.38 L1366.02,1156.46 L1370.59,1157.53 L1375.16,1158.6 L1379.73,1159.66 L1384.29,1160.71 L1388.86,1161.76 L1393.43,1162.8 L1398,1163.83 L1402.57,1164.86 L1407.14,1165.88 L1411.71,1166.9 L1416.28,1167.91 L1420.85,1168.92 L1425.42,1169.92 L1429.98,1170.91 L1434.55,1171.9 L1439.12,1172.89 L1443.69,1173.87 L1448.26,1174.84 L1452.83,1175.81 L1457.4,1176.78 L1461.97,1177.74 L1466.54,1178.69 L1471.1,1179.64 L1475.67,1180.59 L1480.24,1181.53 L1484.81,1182.47 L1489.38,1183.41 L1493.95,1184.34 L1498.52,1185.27 L1503.09,1186.19 L1507.66,1187.11 L1512.22,1188.03 L1516.79,1188.94 L1521.36,1189.85 L1525.93,1190.76 L1530.5,1191.66" fill="none" stroke="#231f20" stroke-width="3.1" stroke-linecap="butt" stroke-linejoin="round"/>
<line x1="112" y1="1664.3" x2="112" y2="2039.7" stroke="#231f20" stroke-width="3.4" stroke-linecap="butt"/>
<line x1="101" y1="1665.7" x2="113.5" y2="1665.7" stroke="#231f20" stroke-width="3" stroke-linecap="butt"/>
<text x="97.5" y="1675.9" font-size="30.5" text-anchor="end" fill="#231f20" >80</text>
<line x1="101" y1="1757.8" x2="113.5" y2="1757.8" stroke="#231f20" stroke-width="3" stroke-linecap="butt"/>
<text x="97.5" y="1768" font-size="30.5" text-anchor="end" fill="#231f20" >60</text>
<line x1="101" y1="1848.9" x2="113.5" y2="1848.9" stroke="#231f20" stroke-width="3" stroke-linecap="butt"/>
<text x="97.5" y="1859.1" font-size="30.5" text-anchor="end" fill="#231f20" >40</text>
<line x1="101" y1="1938.7" x2="113.5" y2="1938.7" stroke="#231f20" stroke-width="3" stroke-linecap="butt"/>
<text x="97.5" y="1948.9" font-size="30.5" text-anchor="end" fill="#231f20" >20</text>
<line x1="101" y1="2029.6" x2="113.5" y2="2029.6" stroke="#231f20" stroke-width="3" stroke-linecap="butt"/>
<text x="97.5" y="2039.8" font-size="30.5" text-anchor="end" fill="#231f20" >0</text>
<line x1="101.4" y1="2029.6" x2="658.3" y2="2029.6" stroke="#231f20" stroke-width="3.3" stroke-linecap="butt"/>
<line x1="112" y1="2029.6" x2="112" y2="2039.7" stroke="#231f20" stroke-width="3" stroke-linecap="butt"/>
<text x="112" y="2070.2" font-size="30.5" text-anchor="middle" fill="#231f20" >0</text>
<line x1="248.3" y1="2029.6" x2="248.3" y2="2039.7" stroke="#231f20" stroke-width="3" stroke-linecap="butt"/>
<text x="248.3" y="2070.2" font-size="30.5" text-anchor="middle" fill="#231f20" >3</text>
<line x1="384.9" y1="2029.6" x2="384.9" y2="2039.7" stroke="#231f20" stroke-width="3" stroke-linecap="butt"/>
<text x="384.9" y="2070.2" font-size="30.5" text-anchor="middle" fill="#231f20" >6</text>
<line x1="521.3" y1="2029.6" x2="521.3" y2="2039.7" stroke="#231f20" stroke-width="3" stroke-linecap="butt"/>
<text x="521.3" y="2070.2" font-size="30.5" text-anchor="middle" fill="#231f20" >9</text>
<line x1="657.6" y1="2029.6" x2="657.6" y2="2039.7" stroke="#231f20" stroke-width="3" stroke-linecap="butt"/>
<text x="657.6" y="2070.2" font-size="30.5" text-anchor="middle" fill="#231f20" >12</text>
<g fill="none" stroke="#747477" stroke-width="3.3">
<circle cx="327.5" cy="1669" r="7.3"/>
<circle cx="205.6" cy="1712.6" r="7.3"/>
<circle cx="288.9" cy="1761" r="7.3"/>
<circle cx="318.7" cy="1781.7" r="7.3"/>
<circle cx="328.6" cy="1804.7" r="7.3"/>
<circle cx="283.8" cy="1814" r="7.3"/>
<circle cx="254.4" cy="1847.9" r="7.3"/>
<circle cx="239.4" cy="1858.3" r="7.3"/>
<circle cx="301" cy="1860.3" r="7.3"/>
<circle cx="304" cy="1876.8" r="7.3"/>
<circle cx="257.9" cy="1899.2" r="7.3"/>
<circle cx="282.2" cy="1913" r="7.3"/>
<circle cx="351.6" cy="1904.6" r="7.3"/>
<circle cx="233.5" cy="1935.2" r="7.3"/>
<circle cx="289.8" cy="1931.6" r="7.3"/>
<circle cx="337.3" cy="1935.7" r="7.3"/>
<circle cx="339.8" cy="1938.7" r="7.3"/>
<circle cx="224" cy="1957.5" r="7.3"/>
<circle cx="193" cy="1960.6" r="7.3"/>
<circle cx="170.3" cy="1971.7" r="7.3"/>
<circle cx="173.5" cy="1981.3" r="7.3"/>
<circle cx="281.1" cy="1966.5" r="7.3"/>
<circle cx="294.9" cy="1969.4" r="7.3"/>
<circle cx="345.9" cy="1956.6" r="7.3"/>
<circle cx="352.3" cy="1954" r="7.3"/>
<circle cx="348.2" cy="1950.5" r="7.3"/>
<circle cx="330.6" cy="1967" r="7.3"/>
<circle cx="334.6" cy="1979.7" r="7.3"/>
<circle cx="337.8" cy="1992.4" r="7.3"/>
<circle cx="238.9" cy="1978.1" r="7.3"/>
<circle cx="187.8" cy="2005.9" r="7.3"/>
<circle cx="191.7" cy="2009.8" r="7.3"/>
<circle cx="309.2" cy="2001.9" r="7.3"/>
<circle cx="432.5" cy="1688" r="7.3"/>
<circle cx="494.3" cy="1760.1" r="7.3"/>
<circle cx="553" cy="1749.9" r="7.3"/>
<circle cx="590.3" cy="1740.8" r="7.3"/>
<circle cx="421" cy="1791.2" r="7.3"/>
<circle cx="440.3" cy="1809" r="7.3"/>
<circle cx="472.2" cy="1787.1" r="7.3"/>
<circle cx="488.9" cy="1791" r="7.3"/>
<circle cx="496.8" cy="1801" r="7.3"/>
<circle cx="544.4" cy="1796.7" r="7.3"/>
<circle cx="584.8" cy="1781.4" r="7.3"/>
<circle cx="605.6" cy="1778.4" r="7.3"/>
<circle cx="414.9" cy="1834.7" r="7.3"/>
<circle cx="447.6" cy="1841" r="7.3"/>
<circle cx="507.1" cy="1831.5" r="7.3"/>
<circle cx="449.2" cy="1869" r="7.3"/>
<circle cx="507.5" cy="1862.2" r="7.3"/>
<circle cx="504.6" cy="1887.1" r="7.3"/>
<circle cx="416.7" cy="1900.3" r="7.3"/>
<circle cx="525.4" cy="1908.3" r="7.3"/>
<circle cx="542.4" cy="1909.8" r="7.3"/>
<circle cx="557.1" cy="1912.7" r="7.3"/>
<circle cx="581" cy="1904.3" r="7.3"/>
<circle cx="444.4" cy="1913.8" r="7.3"/>
<circle cx="436.8" cy="1923.3" r="7.3"/>
<circle cx="446" cy="1926.5" r="7.3"/>
<circle cx="465.4" cy="1923.3" r="7.3"/>
<circle cx="474.6" cy="1930.5" r="7.3"/>
<circle cx="474.6" cy="1938.4" r="7.3"/>
<circle cx="366.7" cy="1937.6" r="7.3"/>
<circle cx="431.3" cy="1938.4" r="7.3"/>
<circle cx="389.5" cy="1949.8" r="7.3"/>
<circle cx="411.4" cy="1944" r="7.3"/>
<circle cx="419.8" cy="1952.7" r="7.3"/>
<circle cx="442.4" cy="1948.7" r="7.3"/>
<circle cx="557.9" cy="1944.3" r="7.3"/>
<circle cx="603.3" cy="1937.7" r="7.3"/>
<circle cx="507.5" cy="1957.5" r="7.3"/>
<circle cx="460.6" cy="1972.1" r="7.3"/>
<circle cx="482.9" cy="1968.9" r="7.3"/>
<circle cx="528.1" cy="1969.8" r="7.3"/>
<circle cx="506.7" cy="1982.4" r="7.3"/>
<circle cx="401.1" cy="1984" r="7.3"/>
<circle cx="360.6" cy="2007.5" r="7.3"/>
<circle cx="466.2" cy="2017.3" r="7.3"/>
<circle cx="598.6" cy="1991.9" r="7.3"/>
</g>
<path d="M169.5,1876.14 L173.14,1878.54 L176.78,1880.55 L180.42,1882.19 L184.06,1883.49 L187.7,1884.5 L191.34,1885.24 L194.98,1885.74 L198.62,1886.03 L202.26,1886.12 L205.89,1886.05 L209.53,1885.83 L213.17,1885.49 L216.81,1885.04 L220.45,1884.51 L224.09,1883.9 L227.73,1883.23 L231.37,1882.51 L235.01,1881.76 L238.65,1880.99 L242.29,1880.21 L245.93,1879.43 L249.57,1878.64 L253.21,1877.87 L256.85,1877.12 L260.49,1876.4 L264.13,1875.7 L267.77,1875.03 L271.41,1874.4 L275.05,1873.81 L278.68,1873.26 L282.32,1872.75 L285.96,1872.28 L289.6,1871.86 L293.24,1871.48 L296.88,1871.15 L300.52,1870.86 L304.16,1870.61 L307.8,1870.4 L311.44,1870.23 L315.08,1870.11 L318.72,1870.01 L322.36,1869.96 L326,1869.93 L329.64,1869.93 L333.28,1869.97 L336.92,1870.02 L340.56,1870.1 L344.2,1870.2 L347.84,1870.31 L351.47,1870.44 L355.11,1870.57 L358.75,1870.72 L362.39,1870.88 L366.03,1871.03 L369.67,1871.19 L373.31,1871.34 L376.95,1871.5 L380.59,1871.64 L384.23,1871.78 L387.87,1871.9 L391.51,1872.02 L395.15,1872.11 L398.79,1872.19 L402.43,1872.26 L406.07,1872.3 L409.71,1872.32 L413.35,1872.32 L416.99,1872.29 L420.63,1872.24 L424.26,1872.16 L427.9,1872.06 L431.54,1871.92 L435.18,1871.76 L438.82,1871.56 L442.46,1871.33 L446.1,1871.07 L449.74,1870.77 L453.38,1870.44 L457.02,1870.07 L460.66,1869.67 L464.3,1869.22 L467.94,1868.74 L471.58,1868.22 L475.22,1867.65 L478.86,1867.04 L482.5,1866.38 L486.14,1865.67 L489.78,1864.92 L493.42,1864.1 L497.05,1863.23 L500.69,1862.3 L504.33,1861.31 L507.97,1860.25 L511.61,1859.11 L515.25,1857.89 L518.89,1856.59 L522.53,1855.2 L526.17,1853.71 L529.81,1852.11 L533.45,1850.4 L537.09,1848.57 L540.73,1846.6 L544.37,1844.49 L548.01,1842.23 L551.65,1839.79 L555.29,1837.17 L558.93,1834.36 L562.57,1831.33 L566.21,1828.08 L569.84,1824.57 L573.48,1820.8 L577.12,1816.74 L580.76,1812.37 L584.4,1807.67 L588.04,1802.61 L591.68,1797.16 L595.32,1791.3 L598.96,1784.99 L602.6,1778.21" fill="none" stroke="#aaaaac" stroke-width="2.7" stroke-linecap="butt" stroke-linejoin="round" stroke-dasharray="12.4 4.8"/>
<path d="M171.9,2031.89 L175.55,2024.3 L179.2,2017.25 L182.84,2010.71 L186.49,2004.66 L190.14,1999.05 L193.79,1993.85 L197.44,1989.03 L201.08,1984.57 L204.73,1980.44 L208.38,1976.61 L212.03,1973.07 L215.67,1969.79 L219.32,1966.74 L222.97,1963.92 L226.62,1961.3 L230.27,1958.87 L233.91,1956.61 L237.56,1954.51 L241.21,1952.55 L244.86,1950.73 L248.51,1949.03 L252.15,1947.45 L255.8,1945.97 L259.45,1944.58 L263.1,1943.28 L266.75,1942.06 L270.39,1940.92 L274.04,1939.84 L277.69,1938.83 L281.34,1937.88 L284.98,1936.98 L288.63,1936.14 L292.28,1935.34 L295.93,1934.59 L299.58,1933.88 L303.22,1933.21 L306.87,1932.58 L310.52,1931.99 L314.17,1931.44 L317.82,1930.91 L321.46,1930.42 L325.11,1929.97 L328.76,1929.54 L332.41,1929.15 L336.06,1928.78 L339.7,1928.45 L343.35,1928.14 L347,1927.86 L350.65,1927.61 L354.29,1927.38 L357.94,1927.18 L361.59,1927 L365.24,1926.85 L368.89,1926.72 L372.53,1926.61 L376.18,1926.52 L379.83,1926.45 L383.48,1926.4 L387.13,1926.37 L390.77,1926.34 L394.42,1926.34 L398.07,1926.34 L401.72,1926.35 L405.37,1926.37 L409.01,1926.4 L412.66,1926.42 L416.31,1926.45 L419.96,1926.48 L423.61,1926.5 L427.25,1926.51 L430.9,1926.52 L434.55,1926.51 L438.2,1926.49 L441.84,1926.45 L445.49,1926.39 L449.14,1926.3 L452.79,1926.2 L456.44,1926.06 L460.08,1925.9 L463.73,1925.7 L467.38,1925.47 L471.03,1925.21 L474.68,1924.9 L478.32,1924.56 L481.97,1924.18 L485.62,1923.76 L489.27,1923.29 L492.92,1922.79 L496.56,1922.24 L500.21,1921.65 L503.86,1921.02 L507.51,1920.36 L511.15,1919.66 L514.8,1918.93 L518.45,1918.17 L522.1,1917.38 L525.75,1916.58 L529.39,1915.76 L533.04,1914.94 L536.69,1914.11 L540.34,1913.3 L543.99,1912.5 L547.63,1911.73 L551.28,1911.01 L554.93,1910.33 L558.58,1909.73 L562.23,1909.21 L565.87,1908.78 L569.52,1908.48 L573.17,1908.31 L576.82,1908.31 L580.46,1908.48 L584.11,1908.86 L587.76,1909.48 L591.41,1910.35 L595.06,1911.51 L598.7,1913 L602.35,1914.84 L606,1917.07" fill="none" stroke="#aaaaac" stroke-width="2.7" stroke-linecap="butt" stroke-linejoin="round" stroke-dasharray="12.4 4.8"/>
<path d="M170.3,1955.58 L173.96,1952.75 L177.62,1950.02 L181.27,1947.39 L184.93,1944.84 L188.59,1942.39 L192.25,1940.02 L195.91,1937.74 L199.56,1935.55 L203.22,1933.45 L206.88,1931.42 L210.54,1929.48 L214.2,1927.61 L217.85,1925.83 L221.51,1924.12 L225.17,1922.48 L228.83,1920.92 L232.49,1919.42 L236.14,1918 L239.8,1916.65 L243.46,1915.36 L247.12,1914.14 L250.78,1912.98 L254.43,1911.88 L258.09,1910.84 L261.75,1909.86 L265.41,1908.93 L269.07,1908.06 L272.72,1907.25 L276.38,1906.48 L280.04,1905.77 L283.7,1905.1 L287.36,1904.48 L291.01,1903.91 L294.67,1903.38 L298.33,1902.89 L301.99,1902.44 L305.65,1902.03 L309.3,1901.66 L312.96,1901.32 L316.62,1901.02 L320.28,1900.75 L323.94,1900.51 L327.59,1900.29 L331.25,1900.11 L334.91,1899.95 L338.57,1899.81 L342.23,1899.7 L345.88,1899.61 L349.54,1899.54 L353.2,1899.48 L356.86,1899.44 L360.52,1899.41 L364.17,1899.4 L367.83,1899.4 L371.49,1899.41 L375.15,1899.42 L378.81,1899.44 L382.46,1899.47 L386.12,1899.49 L389.78,1899.52 L393.44,1899.55 L397.09,1899.58 L400.75,1899.6 L404.41,1899.62 L408.07,1899.63 L411.73,1899.63 L415.38,1899.62 L419.04,1899.6 L422.7,1899.57 L426.36,1899.52 L430.02,1899.45 L433.67,1899.37 L437.33,1899.27 L440.99,1899.14 L444.65,1898.99 L448.31,1898.82 L451.96,1898.62 L455.62,1898.39 L459.28,1898.13 L462.94,1897.84 L466.6,1897.52 L470.25,1897.16 L473.91,1896.76 L477.57,1896.33 L481.23,1895.86 L484.89,1895.35 L488.54,1894.79 L492.2,1894.19 L495.86,1893.54 L499.52,1892.85 L503.18,1892.11 L506.83,1891.31 L510.49,1890.47 L514.15,1889.56 L517.81,1888.61 L521.47,1887.59 L525.12,1886.52 L528.78,1885.38 L532.44,1884.19 L536.1,1882.93 L539.76,1881.6 L543.41,1880.21 L547.07,1878.74 L550.73,1877.21 L554.39,1875.61 L558.05,1873.93 L561.7,1872.17 L565.36,1870.34 L569.02,1868.43 L572.68,1866.44 L576.34,1864.37 L579.99,1862.21 L583.65,1859.97 L587.31,1857.64 L590.97,1855.22 L594.63,1852.72 L598.28,1850.12 L601.94,1847.43 L605.6,1844.64" fill="none" stroke="#231f20" stroke-width="3.1" stroke-linecap="butt" stroke-linejoin="round"/>
<line x1="1133.8" y1="1595.8" x2="1417.2" y2="1595.8" stroke="#231f20" stroke-width="1.7" stroke-linecap="butt"/>
<line x1="1133.8" y1="1595" x2="1133.8" y2="1604.6" stroke="#231f20" stroke-width="1.7" stroke-linecap="butt"/>
<line x1="1417.2" y1="1595" x2="1417.2" y2="1604.6" stroke="#231f20" stroke-width="1.7" stroke-linecap="butt"/>
<line x1="980.4" y1="1630.4" x2="980.4" y2="2031" stroke="#231f20" stroke-width="4" stroke-linecap="butt"/>
<line x1="968.4" y1="1633.5" x2="982.2" y2="1633.5" stroke="#231f20" stroke-width="3.6" stroke-linecap="butt"/>
<text x="964.2" y="1644.2" font-size="34" text-anchor="end" fill="#231f20" >40</text>
<line x1="968.4" y1="1732.4" x2="982.2" y2="1732.4" stroke="#231f20" stroke-width="3.6" stroke-linecap="butt"/>
<text x="964.2" y="1743.1" font-size="34" text-anchor="end" fill="#231f20" >30</text>
<line x1="968.4" y1="1831.6" x2="982.2" y2="1831.6" stroke="#231f20" stroke-width="3.6" stroke-linecap="butt"/>
<text x="964.2" y="1842.3" font-size="34" text-anchor="end" fill="#231f20" >20</text>
<line x1="968.4" y1="1930.8" x2="982.2" y2="1930.8" stroke="#231f20" stroke-width="3.6" stroke-linecap="butt"/>
<text x="964.2" y="1941.5" font-size="34" text-anchor="end" fill="#231f20" >10</text>
<line x1="968.4" y1="2029.6" x2="982.2" y2="2029.6" stroke="#231f20" stroke-width="3.6" stroke-linecap="butt"/>
<text x="964.2" y="2040.3" font-size="34" text-anchor="end" fill="#231f20" >0</text>
<line x1="969.3" y1="2029.9" x2="1575" y2="2029.9" stroke="#231f20" stroke-width="3.6" stroke-linecap="butt"/>
<line x1="1129.2" y1="2030" x2="1129.2" y2="2041" stroke="#231f20" stroke-width="3.2" stroke-linecap="butt"/>
<line x1="1426.2" y1="2030" x2="1426.2" y2="2041" stroke="#231f20" stroke-width="3.2" stroke-linecap="butt"/>
<g fill="none" stroke="#b3b3b6" stroke-width="3.7">
<circle cx="1129" cy="1695.8" r="7.9"/>
<circle cx="1152.7" cy="1767" r="7.9"/>
<circle cx="1105.2" cy="1778.2" r="7.9"/>
<circle cx="1129" cy="1791" r="7.9"/>
<circle cx="1105.2" cy="1831.6" r="7.9"/>
<circle cx="1152.7" cy="1834.3" r="7.9"/>
<circle cx="1129" cy="1845.5" r="7.9"/>
<circle cx="1117.1" cy="1849.4" r="7.9"/>
<circle cx="1140.8" cy="1871.2" r="7.9"/>
<circle cx="1057.4" cy="1880" r="7.9"/>
<circle cx="1081.2" cy="1884.9" r="7.9"/>
<circle cx="1105.2" cy="1894.9" r="7.9"/>
<circle cx="1129" cy="1903" r="7.9"/>
<circle cx="1152.7" cy="1899.5" r="7.9"/>
<circle cx="1176.4" cy="1885.8" r="7.9"/>
<circle cx="1200.2" cy="1884.9" r="7.9"/>
<circle cx="1117.1" cy="1923.6" r="7.9"/>
<circle cx="1140.8" cy="1932.6" r="7.9"/>
<circle cx="1081.2" cy="1936.8" r="7.9"/>
<circle cx="1105.2" cy="1949.1" r="7.9"/>
<circle cx="1129" cy="1960.6" r="7.9"/>
<circle cx="1152.7" cy="1954.3" r="7.9"/>
<circle cx="1176.4" cy="1947.3" r="7.9"/>
<circle cx="1069.3" cy="1963.1" r="7.9"/>
<circle cx="1200.2" cy="1963.4" r="7.9"/>
<circle cx="1093.1" cy="1973.1" r="7.9"/>
<circle cx="1117.1" cy="1984.7" r="7.9"/>
<circle cx="1152.7" cy="1986.8" r="7.9"/>
<circle cx="1176.4" cy="1978.3" r="7.9"/>
<circle cx="1069.3" cy="2003.9" r="7.9"/>
<circle cx="1093.1" cy="2007.6" r="7.9"/>
<circle cx="1117.1" cy="2017.4" r="7.9"/>
<circle cx="1140.8" cy="2010.2" r="7.9"/>
<circle cx="1164.6" cy="2004.9" r="7.9"/>
<circle cx="1188.3" cy="2000.8" r="7.9"/>
</g>
<g fill="none" stroke="#b3b3b6" stroke-width="3.6" stroke-linejoin="round">
<rect x="1418.25" y="1626.25" width="15.9" height="15.9"/>
<rect x="1406.15" y="1655.85" width="15.9" height="15.9"/>
<rect x="1430.05" y="1660.95" width="15.9" height="15.9"/>
<rect x="1430.05" y="1689.55" width="15.9" height="15.9"/>
<rect x="1394.45" y="1700.65" width="15.9" height="15.9"/>
<rect x="1406.15" y="1715.55" width="15.9" height="15.9"/>
<rect x="1430.05" y="1725.75" width="15.9" height="15.9"/>
<rect x="1394.45" y="1757.05" width="15.9" height="15.9"/>
<rect x="1418.25" y="1763.75" width="15.9" height="15.9"/>
<rect x="1441.75" y="1763.15" width="15.9" height="15.9"/>
<rect x="1406.15" y="1788.85" width="15.9" height="15.9"/>
<rect x="1430.05" y="1806.75" width="15.9" height="15.9"/>
<rect x="1394.45" y="1822.05" width="15.9" height="15.9"/>
<rect x="1418.25" y="1832.45" width="15.9" height="15.9"/>
<rect x="1441.85" y="1825.55" width="15.9" height="15.9"/>
<rect x="1347.05" y="1845.05" width="15.9" height="15.9"/>
<rect x="1370.75" y="1846.05" width="15.9" height="15.9"/>
<rect x="1394.55" y="1855.55" width="15.9" height="15.9"/>
<rect x="1418.25" y="1858.05" width="15.9" height="15.9"/>
<rect x="1442.05" y="1852.05" width="15.9" height="15.9"/>
<rect x="1466.15" y="1844.85" width="15.9" height="15.9"/>
<rect x="1489.95" y="1839.75" width="15.9" height="15.9"/>
<rect x="1454.05" y="1868.15" width="15.9" height="15.9"/>
<rect x="1382.65" y="1874.45" width="15.9" height="15.9"/>
<rect x="1430.15" y="1876.55" width="15.9" height="15.9"/>
<rect x="1406.35" y="1886.35" width="15.9" height="15.9"/>
<rect x="1358.95" y="1894.45" width="15.9" height="15.9"/>
<rect x="1382.65" y="1900.05" width="15.9" height="15.9"/>
<rect x="1477.75" y="1899.15" width="15.9" height="15.9"/>
<rect x="1406.35" y="1911.75" width="15.9" height="15.9"/>
<rect x="1430.15" y="1914.25" width="15.9" height="15.9"/>
<rect x="1454.05" y="1911.85" width="15.9" height="15.9"/>
<rect x="1347.05" y="1934.05" width="15.9" height="15.9"/>
<rect x="1370.75" y="1942.55" width="15.9" height="15.9"/>
<rect x="1466.15" y="1942.85" width="15.9" height="15.9"/>
<rect x="1489.95" y="1939.35" width="15.9" height="15.9"/>
<rect x="1394.55" y="1953.35" width="15.9" height="15.9"/>
<rect x="1418.25" y="1957.85" width="15.9" height="15.9"/>
<rect x="1442.05" y="1954.05" width="15.9" height="15.9"/>
<rect x="1394.55" y="1982.45" width="15.9" height="15.9"/>
<rect x="1418.25" y="1984.05" width="15.9" height="15.9"/>
<rect x="1442.05" y="1978.05" width="15.9" height="15.9"/>
<rect x="1430.15" y="1995.95" width="15.9" height="15.9"/>
<rect x="1406.35" y="2011.35" width="15.9" height="15.9"/>
</g>
<line x1="1030.1" y1="1932.6" x2="1228.1" y2="1932.6" stroke="#231f20" stroke-width="3.5" stroke-linecap="butt"/>
<line x1="1327.5" y1="1866.3" x2="1525.1" y2="1866.3" stroke="#231f20" stroke-width="3.5" stroke-linecap="butt"/>
</svg>
</body></html>
